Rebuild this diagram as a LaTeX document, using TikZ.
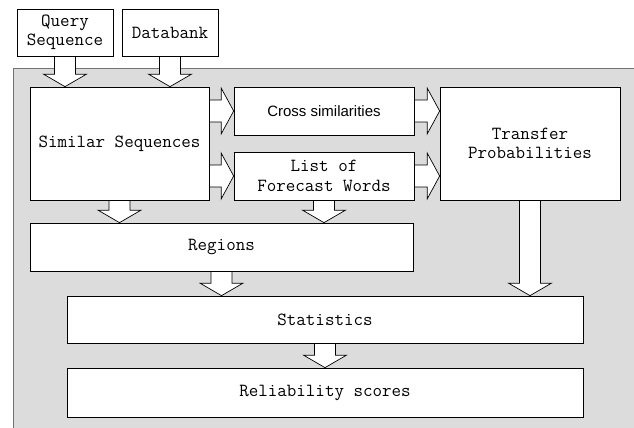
\documentclass[tikz,border=0pt]{standalone}
\usepackage{fontspec}
\setmainfont{Liberation Serif}
\setsansfont{Liberation Sans}
\usetikzlibrary{calc,shadows}
\pgfdeclarelayer{back}
\pgfsetlayers{back,main}
\definecolor{panel}{RGB}{220,220,220}
\newcommand{\vfat}[2]{\path[fat] let \p1=(#1), \p2=(#2) in
  (\x2-10.5pt,\y1) -- (\x2-10.5pt,\y2+12.5pt) -- (\x2-21.5pt,\y2+12.5pt) -- (\x2,\y2)
  -- (\x2+21.5pt,\y2+12.5pt) -- (\x2+10.5pt,\y2+12.5pt) -- (\x2+10.5pt,\y1);}
\newcommand{\hfat}[2]{\path[fat] let \p1=(#1), \p2=(#2) in
  (\x1,\y2+11pt) -- (\x2-12.5pt,\y2+11pt) -- (\x2-12.5pt,\y2+23pt) -- (\x2,\y2)
  -- (\x2-12.5pt,\y2-23pt) -- (\x2-12.5pt,\y2-11pt) -- (\x1,\y2-11pt);}
\begin{document}
\begin{tikzpicture}[x=1pt,y=-1pt,
  box/.style={draw, fill=white, line width=0.7pt, inner sep=0pt, align=center,
    font=\ttfamily\fontsize{18.5}{19.5}\selectfont\addfontfeatures{LetterSpace=6,FakeBold=0.7},
    drop shadow={shadow xshift=1pt, shadow yshift=-1pt, fill=black, opacity=0.75}},
  fat/.style={draw, fill=white, line width=0.7pt}]
\useasboundingbox (0,0) rectangle (634,428);

\node[box, minimum width=96, minimum height=47] (query) at (65,32.5) {Query\\Sequence};
\node[box, minimum width=96, minimum height=47] (bank) at (170,32.5) {Databank};
\node[box, minimum width=179, minimum height=113] (similar) at (119.5,143.5) {Similar Sequences};
\node[box, minimum width=180, minimum height=48, font=\sffamily\fontsize{15}{18}\selectfont] (cross) at (324,111) {Cross similarities};
\node[box, minimum width=180, minimum height=48] (forecast) at (324,176) {List of\\Forecast Words};
\node[box, minimum width=180, minimum height=113] (transfer) at (530,143.5) {Transfer\\Probabilities};
\node[box, minimum width=383, minimum height=48] (regions) at (221.5,247) {Regions};
\node[box, minimum width=516, minimum height=47] (stats) at (325,319.5) {Statistics};
\node[box, minimum width=516, minimum height=49] (reliab) at (325,392.5) {Reliability scores};

\begin{pgfonlayer}{back}
\path[fill=panel] (13,68) rectangle (640,440);
\path[draw=black!55, line width=0.8pt] (13,440) -- (13,68) -- (640,68);
\vfat{query.south}{query.south |- similar.north}
\vfat{bank.south}{bank.south |- similar.north}
\hfat{similar.east |- cross.west}{cross.west}
\hfat{similar.east |- forecast.west}{forecast.west}
\hfat{cross.east}{transfer.west |- cross.east}
\hfat{forecast.east}{transfer.west |- forecast.east}
\vfat{similar.south}{similar.south |- regions.north}
\vfat{forecast.south}{forecast.south |- regions.north}
\vfat{regions.south}{regions.south |- stats.north}
\vfat{transfer.south}{transfer.south |- stats.north}
\vfat{stats.south}{reliab.north}
\end{pgfonlayer}
\end{tikzpicture}
\end{document}
